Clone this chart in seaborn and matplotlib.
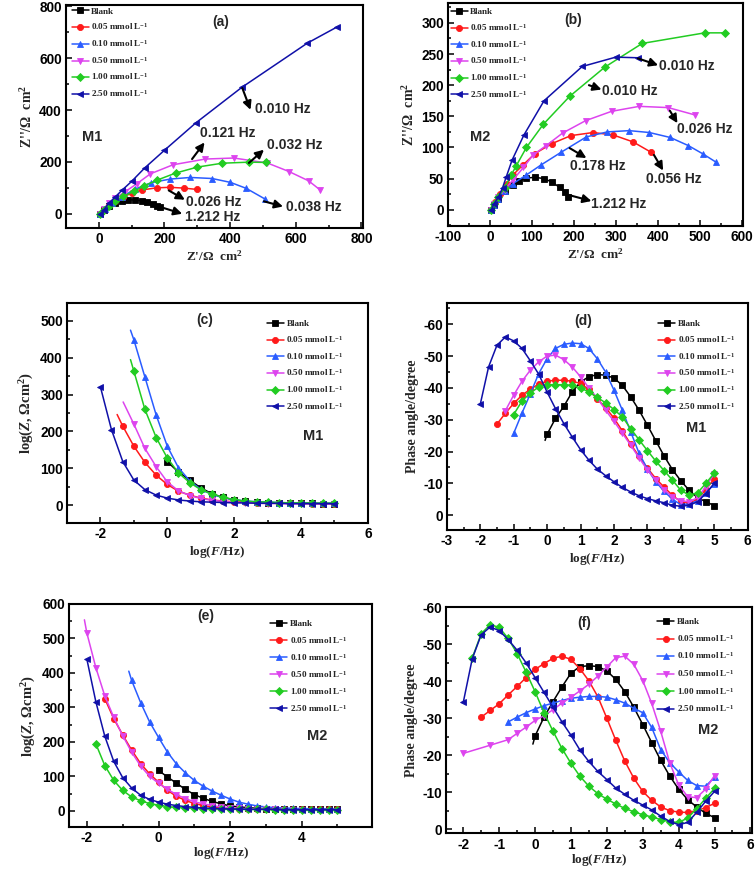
import numpy as np
import pandas as pd
import matplotlib
matplotlib.use("Agg")
import matplotlib.pyplot as plt
from matplotlib.ticker import MultipleLocator, FormatStrFormatter
import seaborn as sns

# ---- series definitions ----
CONC = ["Blank", "0.05", "0.10", "0.50", "1.00", "2.50"]
COLORS = ["#000000", "#ff1a1a", "#2a5cff", "#dd44ee", "#22cc22", "#1010a8"]
MARKERS = ["s", "o", "^", "v", "D", "<"]

# log(F/Hz) grids used by the Bode plots (every series ends at 5)
LOGF_T = [-2.0, -1.67, -1.33, -1.0, -0.67, -0.33, 0.0, 0.33, 0.67, 1.0, 1.33,
          1.67, 2.0, 2.33, 2.67, 3.0, 3.33, 3.67, 4.0, 4.33, 4.67, 5.0]
LOGF_Q = [-2.0, -1.75, -1.5, -1.25, -1.0, -0.75, -0.5, -0.25, 0.0, 0.25, 0.5,
          0.75, 1.0, 1.25, 1.5, 1.75, 2.0, 2.25, 2.5, 2.75, 3.0, 3.25, 3.5,
          3.75, 4.0, 4.25, 4.5, 4.75, 5.0]

# (a) Nyquist M1
A_X = {
    "Blank": [5, 15, 30, 50, 70, 90, 110, 130, 148, 165, 178, 185],
    "0.05": [5, 15, 30, 50, 75, 100, 132, 176, 216, 259, 298],
    "0.10": [5, 20, 40, 70, 110, 160, 218, 279, 345, 401, 449, 506],
    "0.50": [5, 15, 30, 50, 80, 115, 157, 226, 324, 411, 513, 579, 639, 673],
    "1.00": [5, 15, 30, 50, 75, 107, 137, 178, 234, 300, 376, 457, 510],
    "2.50": [5, 15, 30, 50, 70, 100, 140, 200, 295, 435, 635, 725],
}
A_Y = {
    "Blank": [0, 15, 30, 42, 50, 54, 53, 50, 45, 38, 31, 25],
    "0.05": [0, 15, 32, 50, 65, 80, 92, 100, 102, 99, 94],
    "0.10": [0, 20, 40, 65, 95, 120, 134, 140, 136, 121, 98, 57],
    "0.50": [0, 20, 40, 60, 85, 115, 154, 189, 211, 215, 196, 163, 127, 93],
    "1.00": [0, 15, 30, 48, 68, 86, 107, 130, 157, 180, 195, 199, 198],
    "2.50": [0, 15, 40, 65, 90, 125, 177, 245, 350, 487, 658, 720],
}

# (b) Nyquist M2
B_X = {
    "Blank": [3, 10, 20, 35, 55, 70, 87, 108, 129, 149, 166, 178, 185],
    "0.05": [3, 12, 25, 40, 55, 79, 107, 147, 193, 246, 294, 341, 385],
    "0.10": [3, 10, 20, 35, 55, 85, 122, 169, 230, 280, 332, 380, 430, 473, 507, 540],
    "0.50": [3, 10, 20, 35, 55, 80, 103, 134, 173, 228, 290, 356, 425, 490],
    "1.00": [3, 10, 20, 35, 50, 63, 87, 127, 190, 274, 363, 512, 560],
    "2.50": [3, 10, 20, 30, 39, 53, 81, 129, 220, 300, 353],
}
B_Y = {
    "Blank": [0, 8, 18, 30, 40, 46, 51, 52, 50, 44, 36, 28, 21],
    "0.05": [0, 12, 26, 42, 56, 72, 90, 106, 119, 124, 120, 109, 92],
    "0.10": [0, 8, 18, 30, 42, 55, 72, 92, 117, 125, 127, 124, 116, 103, 90, 76],
    "0.50": [0, 10, 20, 32, 48, 68, 88, 103, 123, 143, 158, 166, 164, 152],
    "1.00": [0, 10, 20, 35, 55, 71, 100, 137, 182, 229, 267, 284, 284],
    "2.50": [0, 10, 20, 35, 53, 80, 120, 175, 230, 245, 244],
}

# (c) |Z| vs log F, M1 (grid LOGF_T, values end at logF = 5)
C_Z = {
    "Blank": [118, 90, 68, 47, 31, 21, 14, 10, 8, 7, 6, 5, 5, 5, 4, 4],
    "0.05": [214, 160, 116, 81, 56, 38, 27, 19, 14, 11, 9, 8, 7, 6, 5, 5, 5, 4, 4, 4],
    "0.10": [449, 348, 244, 160, 102, 66, 43, 29, 20, 15, 11, 9, 8, 7, 6, 6, 5, 5, 5],
    "0.50": [220, 154, 104, 63, 39, 26, 18, 13, 10, 8, 6, 5, 4, 4, 3, 3, 3, 3, 3],
    "1.00": [364, 260, 183, 128, 88, 61, 42, 30, 21, 15, 11, 9, 8, 7, 6, 6, 5, 5, 5],
    "2.50": [321, 205, 118, 68, 42, 27, 19, 14, 11, 9, 8, 7, 6, 6, 5, 5, 5, 4, 4, 4, 4, 4],
}
C_LEAD = {"0.05": (-1.5, 246), "0.10": (-1.1, 475), "0.50": (-1.32, 280), "1.00": (-1.1, 395)}

# (d) phase vs log F, M1 (grid LOGF_Q)
D_PH = {
    "Blank": [-25.4, -30.4, -34.2, -38.7, -41.9, -43.5, -44.2, -44.0, -43.1, -40.8, -37.2,
              -33.0, -28.3, -23.4, -18.6, -14.3, -10.8, -7.8, -5.5, -4.2, -3.0],
    "0.05": [-28.6, -32.0, -35.1, -37.7, -39.6, -41.2, -42.1, -42.4, -42.4, -42.1, -41.4,
             -39.5, -36.5, -33.8, -30.5, -26.5, -22.3, -18.5, -14.8, -11.5, -8.8, -6.2,
             -4.2, -3.8, -5.0, -8.0, -11.5],
    "0.10": [-25.7, -32.1, -38.2, -44.5, -49.2, -52.4, -53.7, -54.1, -53.9, -52.4, -49.2,
             -45.0, -39.3, -33.0, -26.2, -19.5, -14.5, -10.5, -7.5, -5.0, -3.3, -3.5,
             -4.5, -7.0, -9.8],
    "0.50": [-32.8, -37.7, -42.1, -45.6, -48.2, -50.0, -50.3, -48.9, -46.6, -43.5, -40.0,
             -36.8, -33.0, -29.5, -25.8, -22.0, -18.0, -14.2, -11.0, -8.0, -5.8, -4.5,
             -4.2, -5.5, -9.0, -13.0],
    "1.00": [-31.6, -35.9, -38.4, -40.3, -41.0, -41.0, -41.0, -40.8, -40.0, -38.7, -37.0,
             -35.3, -33.2, -30.9, -27.2, -23.7, -20.3, -17.0, -14.0, -11.0, -7.8, -6.3,
             -7.0, -10.0, -13.2],
    "2.50": [-34.8, -46.6, -53.4, -56.0, -54.8, -52.4, -48.5, -44.3, -38.7, -33.5, -28.8,
             -24.6, -20.6, -17.3, -14.5, -12.4, -10.5, -8.7, -7.3, -6.1, -5.2, -4.5,
             -3.9, -3.1, -2.8, -3.1, -4.2, -6.8, -10.0],
}
D_LEAD = {"Blank": (-0.06, -23.5)}

# (e) |Z| vs log F, M2 (grid LOGF_Q; 0.50 stops at logF = 4)
E_Z = {
    "Blank": [117, 98, 80, 62, 47, 36, 27, 20, 14, 11, 9, 7, 6, 5, 5, 4, 4, 4, 4, 4, 4],
    "0.05": [325, 267, 220, 176, 137, 107, 83, 59, 42, 30, 21, 15, 11, 9, 7, 6, 5, 5,
             4, 4, 4, 4, 4, 4, 4, 4, 4],
    "0.10": [378, 314, 258, 213, 170, 136, 110, 88, 71, 57, 45, 34, 25, 19, 14, 11, 9,
             8, 7, 6, 6, 5, 5, 5],
    "0.50": [515, 415, 333, 271, 218, 170, 130, 100, 80, 62, 47, 35, 26, 20, 15, 11, 9,
             7, 6, 5, 4, 4, 3, 3, 3],
    "1.00": [194, 131, 88, 59, 40, 29, 21, 16, 12, 10, 8, 7, 6, 6, 5, 5, 4, 4, 4, 4, 3,
             3, 3, 3, 3, 3, 3, 3],
    "2.50": [439, 316, 216, 143, 96, 66, 45, 33, 25, 19, 15, 12, 10, 8, 7, 6, 5, 5, 4,
             4, 4, 4, 3, 3, 3, 3, 3, 3, 3],
}
E_END = {"0.50": 4.0}
E_LEAD = {"0.10": (-0.83, 405), "0.50": (-2.07, 554)}

# (f) phase vs log F, M2
F_PH = {
    "Blank": [-25.2, -30.3, -34.5, -38.5, -42.2, -44.0, -44.2, -44.0, -42.8, -40.5, -37.2,
              -33.0, -28.3, -23.4, -18.6, -14.4, -10.8, -8.0, -6.0, -4.3, -3.1],
    "0.05": [-30.3, -32.1, -33.9, -36.3, -38.6, -41.0, -43.2, -44.8, -46.2, -46.8, -45.9,
             -43.4, -40.1, -35.8, -30.0, -24.0, -18.4, -13.8, -10.2, -7.8, -6.0, -5.0,
             -4.6, -4.5, -5.0, -5.8, -7.0],
    "0.10": [-29.0, -30.3, -31.5, -32.5, -33.4, -34.1, -34.8, -35.4, -35.7, -35.9, -35.9,
             -35.7, -35.0, -34.1, -32.7, -31.5, -27.5, -21.5, -18.0, -15.5, -13.2, -11.8,
             -11.6, -14.0],
    "0.50": [-20.5, -22.7, -24.2, -25.9, -27.6, -29.4, -30.7, -32.3, -34.1, -35.7, -37.4,
             -39.2, -41.4, -43.9, -46.4, -46.8, -44.6, -40.2, -34.0, -26.5, -18.0, -12.0,
             -8.8, -8.5, -10.8, -14.5],
    "1.00": [-46.3, -52.9, -55.3, -54.6, -51.6, -47.5, -42.5, -37.2, -31.5, -26.5, -21.8,
             -17.8, -14.3, -11.6, -9.6, -8.1, -6.8, -5.6, -4.7, -3.9, -3.3, -2.6, -2.0,
             -1.8, -3.0, -5.5, -8.3, -11.0],
    "2.50": [-34.3, -46.1, -52.6, -54.7, -53.7, -51.3, -48.4, -45.0, -41.0, -37.0, -33.0,
             -29.0, -25.4, -21.4, -18.3, -15.6, -13.4, -11.1, -9.4, -7.8, -6.5, -5.2,
             -3.5, -2.1, -1.2, -1.8, -4.5, -7.5, -10.2],
}
# 0.50 in (f) was sampled more sparsely at the low-frequency end
F_MAG_LOGF = [-2.0, -1.25, -0.75, -0.5, -0.25, 0.0, 0.25, 0.5, 0.75, 1.0, 1.25, 1.5,
              1.75, 2.0, 2.25, 2.5, 2.75, 3.0, 3.25, 3.5, 3.75, 4.0, 4.25, 4.5, 4.75, 5.0]
F_LEAD = {"Blank": (-0.06, -23.0)}

# ---- style ----
sns.set_style("ticks")
plt.rcParams["font.family"] = ["Liberation Sans", "DejaVu Sans"]
plt.rcParams["font.weight"] = "bold"
plt.rcParams["axes.unicode_minus"] = False
plt.rcParams["mathtext.fontset"] = "custom"
plt.rcParams["mathtext.rm"] = "Liberation Serif:bold"
plt.rcParams["mathtext.bf"] = "Liberation Serif:bold"
plt.rcParams["mathtext.it"] = "Liberation Serif:italic:bold"

SERIF = {"family": "Liberation Serif", "weight": "bold"}


def legend_text(c):
    return "Blank" if c == "Blank" else c + " mmol L$^{-1}$"


def draw(ax, i, x, y, lead=None):
    col = COLORS[i]
    if lead is not None:
        seg = pd.DataFrame({"x": [lead[0], x[0]], "y": [lead[1], y[0]]})
        sns.lineplot(data=seg, x="x", y="y", ax=ax, sort=False, color=col,
                     linewidth=1.1, legend=False)
    df = pd.DataFrame({"x": x, "y": y})
    ms = 3.6 if MARKERS[i] == "D" else 4.4
    sns.lineplot(data=df, x="x", y="y", ax=ax, sort=False, color=col,
                 marker=MARKERS[i], markersize=ms, markeredgecolor=col,
                 markeredgewidth=0.6, linewidth=1.1, label=legend_text(CONC[i]))


def style(ax, xlim, ylim, xmaj, xmin, ymaj, ymin, xlabel, ylabel, xpad=2, ysize=9.5):
    ax.set_xlim(*xlim)
    ax.set_ylim(*ylim)
    ax.xaxis.set_major_locator(MultipleLocator(xmaj))
    ax.xaxis.set_minor_locator(MultipleLocator(xmin))
    ax.yaxis.set_major_locator(MultipleLocator(ymaj))
    ax.yaxis.set_minor_locator(MultipleLocator(ymin))
    ax.xaxis.set_major_formatter(FormatStrFormatter("%g"))
    ax.yaxis.set_major_formatter(FormatStrFormatter("%g"))
    ax.tick_params(which="both", direction="in", top=False, right=False,
                   width=1.1, colors="black")
    ax.tick_params(which="major", length=4, labelsize=9.8, pad=3)
    ax.tick_params(which="minor", length=2.5)
    for lab in ax.get_xticklabels() + ax.get_yticklabels():
        lab.set_fontweight("bold")
    for s in ax.spines.values():
        s.set_linewidth(1.5)
        s.set_color("black")
    ax.set_xlabel(xlabel, fontsize=9.5, labelpad=xpad, **SERIF)
    ax.set_ylabel(ylabel, fontsize=ysize, labelpad=3, **SERIF)
    ax.grid(False)


def legend(ax, anchor, spacing):
    ax.legend(loc="upper left", bbox_to_anchor=anchor, frameon=False,
              prop={"family": "Liberation Serif", "weight": "bold", "size": 6.6},
              handlelength=1.9, handletextpad=0.25, labelspacing=spacing,
              borderpad=0, borderaxespad=0)


def arrow(ax, tail, head, text, tpos):
    ax.annotate("", xy=head, xytext=tail,
                arrowprops=dict(arrowstyle="-|>,head_length=0.5,head_width=0.25",
                                color="black", lw=1.5, shrinkA=0, shrinkB=0))
    ax.text(tpos[0], tpos[1], text, fontsize=10, fontweight="bold",
            ha="left", va="center")


fig = plt.figure(figsize=(7.56, 8.69), dpi=100)

# (a)
ax = fig.add_axes([0.0873, 0.7376, 0.393, 0.2566])
for i, c in enumerate(CONC):
    draw(ax, i, A_X[c], A_Y[c])
style(ax, (-100, 805), (-55, 805), 200, 100, 200, 100,
      "Z'/Ω  cm$^2$", "Z''/Ω  cm$^2$", ysize=10)
legend(ax, (0.019, 0.99), 0.62)
arrow(ax, (437, 485), (462, 401), "0.010 Hz", (477, 405))
arrow(ax, (284, 211), (322, 275), "0.121 Hz", (308, 311))
arrow(ax, (457, 196), (503, 247), "0.032 Hz", (513, 266))
arrow(ax, (213, 90), (262, 54), "0.026 Hz", (266, 47))
arrow(ax, (503, 48), (561, 28), "0.038 Hz", (569, 25))
arrow(ax, (198, 22), (254, 0), "1.212 Hz", (262, -11))
ax.text(0.087, 0.41, "M1", transform=ax.transAxes, fontsize=10.5, fontweight="bold",
        ha="center", va="center")
ax.text(0.519, 0.925, "(a)", transform=ax.transAxes, fontsize=10, fontweight="bold",
        ha="center", va="center")

# (b)
ax = fig.add_axes([0.5926, 0.740, 0.390, 0.2566])
for i, c in enumerate(CONC):
    draw(ax, i, B_X[c], B_Y[c])
style(ax, (-100, 603), (-26, 332), 100, 50, 50, 25,
      "Z'/Ω  cm$^2$", "Z''/Ω  cm$^2$", ysize=10)
legend(ax, (0.009, 0.978), 0.62)
arrow(ax, (353, 243), (401, 232), "0.010 Hz", (404, 231))
arrow(ax, (236, 200), (266, 193), "0.010 Hz", (268, 191))
arrow(ax, (429, 159), (447, 139), "0.026 Hz", (445, 130))
arrow(ax, (190, 99), (230, 83), "0.178 Hz", (190, 70))
arrow(ax, (391, 88), (413, 63), "0.056 Hz", (373, 50))
arrow(ax, (186, 24), (242, 14), "1.212 Hz", (240, 9))
ax.text(0.108, 0.40, "M2", transform=ax.transAxes, fontsize=10.5, fontweight="bold",
        ha="center", va="center")
ax.text(0.425, 0.925, "(b)", transform=ax.transAxes, fontsize=10, fontweight="bold",
        ha="center", va="center")

zlabel = r"log($\mathit{Z}$, Ωcm$^{2}$)"
flabel = r"log($\mathit{F}$/Hz)"

# (c)
ax = fig.add_axes([0.0886, 0.398, 0.398, 0.253])
for i, c in enumerate(CONC):
    y = C_Z[c]
    draw(ax, i, LOGF_T[-len(y):], y, C_LEAD.get(c))
style(ax, (-3, 6), (-49, 548), 2, 1, 100, 50, flabel, zlabel, ysize=10.5)
legend(ax, (0.664, 0.925), 0.62)
ax.text(0.818, 0.397, "M1", transform=ax.transAxes, fontsize=10.5, fontweight="bold",
        ha="center", va="center")
ax.text(0.458, 0.926, "(c)", transform=ax.transAxes, fontsize=10, fontweight="bold",
        ha="center", va="center")

# (d)
ax = fig.add_axes([0.591, 0.390, 0.398, 0.261])
for i, c in enumerate(CONC):
    y = D_PH[c]
    draw(ax, i, LOGF_Q[-len(y):], y, D_LEAD.get(c))
style(ax, (-3, 6), (4.7, -66.6), 1, 0.5, 10, 5, flabel, "Phase angle/degree", ysize=10)
legend(ax, (0.702, 0.927), 0.62)
ax.text(0.83, 0.45, "M1", transform=ax.transAxes, fontsize=10.5, fontweight="bold",
        ha="center", va="center")
ax.text(0.453, 0.92, "(d)", transform=ax.transAxes, fontsize=10, fontweight="bold",
        ha="center", va="center")

# (e)
ax = fig.add_axes([0.0913, 0.048, 0.401, 0.257])
for i, c in enumerate(CONC):
    y = E_Z[c]
    grid = LOGF_Q[:LOGF_Q.index(E_END.get(c, 5.0)) + 1]
    draw(ax, i, grid[-len(y):], y, E_LEAD.get(c))
style(ax, (-2.5, 5.97), (-48, 600), 2, 1, 100, 50, flabel, zlabel, xpad=0, ysize=10.5)
legend(ax, (0.663, 0.928), 0.66)
ax.text(0.817, 0.408, "M2", transform=ax.transAxes, fontsize=10.5, fontweight="bold",
        ha="center", va="center")
ax.text(0.452, 0.944, "(e)", transform=ax.transAxes, fontsize=10, fontweight="bold",
        ha="center", va="center")

# (f)
ax = fig.add_axes([0.590, 0.041, 0.405, 0.2605])
for i, c in enumerate(CONC):
    y = F_PH[c]
    x = F_MAG_LOGF if c == "0.50" else LOGF_Q[-len(y):]
    draw(ax, i, x, y, F_LEAD.get(c))
style(ax, (-2.48, 6.05), (1.15, -60.1), 1, 0.5, 10, 5, flabel, "Phase angle/degree",
      xpad=0, ysize=10)
legend(ax, (0.689, 0.952), 0.72)
ax.text(0.857, 0.455, "M2", transform=ax.transAxes, fontsize=10.5, fontweight="bold",
        ha="center", va="center")
ax.text(0.451, 0.929, "(f)", transform=ax.transAxes, fontsize=10, fontweight="bold",
        ha="center", va="center")

fig.savefig("out.png", dpi=100)
